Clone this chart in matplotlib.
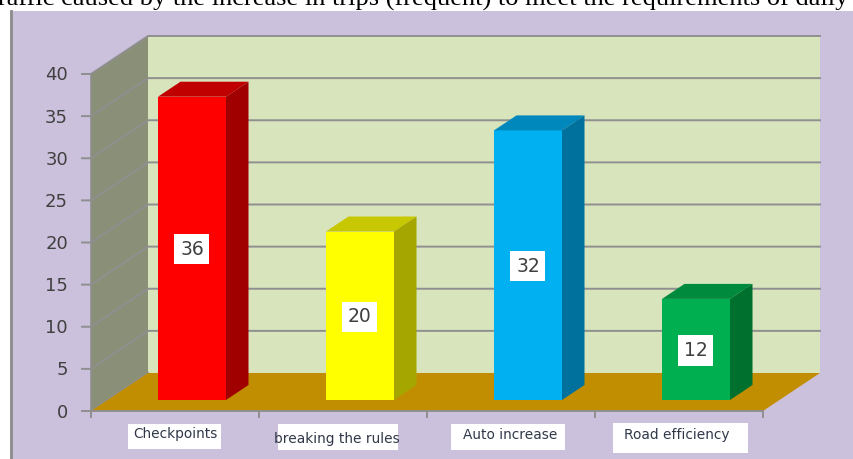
import matplotlib
matplotlib.use("Agg")
import matplotlib.pyplot as plt
from matplotlib.patches import Polygon

categories = ["Checkpoints", "breaking the rules", "Auto increase", "Road efficiency"]
values = [36, 20, 32, 12]
y_ticks = [0, 5, 10, 15, 20, 25, 30, 35, 40]
front_colors = ["#ff0000", "#ffff00", "#00b0f0", "#00b050"]
top_colors = ["#c00000", "#c8c800", "#0088bc", "#008a3e"]
side_colors = ["#a00000", "#a6a600", "#00709c", "#00702f"]
title_text = "raffic caused by the increase in trips (frequent) to meet the requirements of daily t"

W, H = 854, 459
PX_X = 168.0          # pixels per category
PX_Y = 337 / 40.0     # pixels per value unit
X0, Y0 = 91, 411      # pixel position of the origin
DX, DY = 57, 38       # depth of the 3D box in pixels

LILAC = "#cbc1dc"
WALL = "#d8e4bc"
SIDE = "#8a8f78"
FLOOR = "#c08e00"
GRID = "#8f8f8f"
TEXT = "#404040"

fig = plt.figure(figsize=(W / 100, H / 100), dpi=100, facecolor="white")
ax = fig.add_axes([0, 0, 1, 1])
ax.set_xlim((0 - X0) / PX_X, (W - X0) / PX_X)
ax.set_ylim((Y0 - H) / PX_Y, Y0 / PX_Y)
ax.axis("off")


def dp(x, y, d=0.0):
    """Category/value position pushed d (0-1) into the 3D depth."""
    return (x + d * DX / PX_X, y + d * DY / PX_Y)


def px(x, y):
    """Pixel position (top-left origin) in data units."""
    return ((x - X0) / PX_X, (Y0 - y) / PX_Y)


n = len(categories)
top = max(y_ticks)

# Background panel
ax.add_patch(Polygon([px(10, 11), px(855, 11), px(855, 460), px(10, 460)],
                     fc=LILAC, ec="none", zorder=0))
ax.plot(*zip(px(10.5, 11), px(10.5, 460)), color="#8c8c8c", lw=2, zorder=0.5)

# Walls and floor
ax.add_patch(Polygon([dp(0, 0, 1), dp(n, 0, 1), dp(n, top, 1), dp(0, top, 1)],
                     fc=WALL, ec="none", zorder=1))
ax.add_patch(Polygon([dp(0, 0), dp(0, top), dp(0, top, 1), dp(0, 0, 1)],
                     fc=SIDE, ec="none", zorder=1))
ax.add_patch(Polygon([dp(0, 0), dp(n, 0), dp(n, 0, 1), dp(0, 0, 1)],
                     fc=FLOOR, ec="none", zorder=1.5))

# Gridlines and ticks
for t in y_ticks:
    pts = [dp(-9 / PX_X, t), dp(0, t), dp(0, t, 1)]
    if t > 0:
        pts.append(dp(n, t, 1))
    ax.plot(*zip(*pts), color=GRID, lw=1.4, zorder=1.2, solid_joinstyle="miter")
    ax.text(*dp(-23 / PX_X, t - 1.5 / PX_Y), str(t), ha="right", va="center",
            fontsize=13, color=TEXT, family="DejaVu Sans", zorder=5)
ax.plot(*zip(dp(0, 0), dp(0, top)), color=GRID, lw=1.2, zorder=1.3)
ax.plot(*zip(dp(0, 0), dp(n, 0)), color=GRID, lw=1.4, zorder=1.6)
for i in range(n + 1):
    ax.plot(*zip(dp(i, 0), dp(i, -6 / PX_Y)), color=GRID, lw=1.4, zorder=1.6)

# Bars: front face through ax.bar, top and side through polygons
D1, D2 = 11 / DY, 26 / DY
BW = 68 / PX_X
for i, v in enumerate(values):
    cx, base = dp(i + 0.5, 0, D1)
    ax.bar(cx + 0.5 / PX_X, v, BW, bottom=base, color=front_colors[i], zorder=3)
    l, r = i + 0.5 - BW / 2 + 0.5 / PX_X, i + 0.5 + BW / 2 + 0.5 / PX_X
    ax.add_patch(Polygon([dp(l, v, D1), dp(r, v, D1), dp(r, v, D2), dp(l, v, D2)],
                         fc=top_colors[i], ec="none", zorder=3))
    ax.add_patch(Polygon([dp(r, 0, D1), dp(r, v, D1), dp(r, v, D2), dp(r, 0, D2)],
                         fc=side_colors[i], ec="none", zorder=3))
    ax.text(cx + 0.5 / PX_X, base + v / 2 - 1 / PX_Y, str(v), ha="center", va="center",
            fontsize=13.5, color=TEXT, family="DejaVu Sans", zorder=6,
            bbox=dict(fc="white", ec="none", boxstyle="square,pad=0.3"))

# Category labels on their white boxes
label_boxes = [(128, 424, 221, 449), (278, 424, 398, 450),
               (451, 424, 565, 450), (613, 423, 748, 453)]
label_pos = [(175, 434), (336.5, 439), (510.5, 435), (677, 435)]
for name, (x1, y1, x2, y2), (tx, ty) in zip(categories, label_boxes, label_pos):
    ax.add_patch(Polygon([px(x1, y1), px(x2, y1), px(x2, y2), px(x1, y2)],
                         fc="white", ec="none", zorder=4))
    ax.text(*px(tx, ty), name, ha="center", va="center", fontsize=9.9,
            color="#303848", family="DejaVu Sans", zorder=5)

# Cropped heading of the surrounding page
ax.text(*px(-1.5, 5.5), title_text, ha="left", va="baseline", fontsize=19,
        family="Liberation Serif", color="black", zorder=6)

fig.savefig("out.png", dpi=100)
